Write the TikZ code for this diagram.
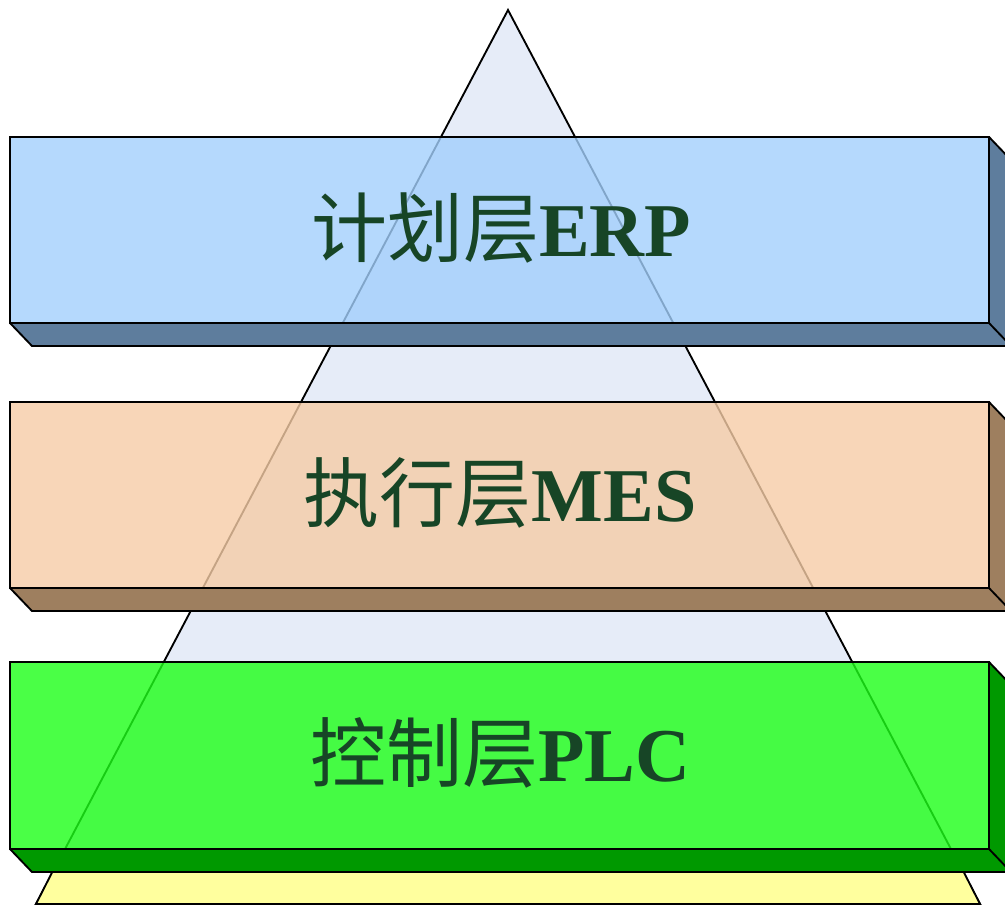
\documentclass[tikz,border=0pt]{standalone}
\usepackage{fontspec}
\setmainfont{Liberation Serif}
\newfontfamily\latbold{Liberation Serif Bold}
\newfontfamily\cjk{Noto Sans CJK SC}
\definecolor{triFill}{RGB}{230,236,248}
\definecolor{baseYellow}{RGB}{255,255,158}
\definecolor{erpFront}{RGB}{162,207,252}
\definecolor{erpSide}{RGB}{94,125,157}
\definecolor{mesFront}{RGB}{246,204,166}
\definecolor{mesSide}{RGB}{158,127,95}
\definecolor{plcFront}{RGB}{29,255,24}
\definecolor{plcSide}{RGB}{0,153,0}
\definecolor{labelGreen}{RGB}{23,69,38}
\tikzset{
  edge/.style={draw=black, line width=1.4pt, line join=miter},
  frontface/.style={edge, fill opacity=0.8},
  label/.style={text=labelGreen, font=\fontsize{57}{62}\selectfont, anchor=base, inner sep=0pt},
}
\newcommand{\layerbar}[4]{% top y, bottom y, front colour, side colour
  \fill[#4] (10,#2) -- (989,#2) -- (1011,#2+23) -- (32,#2+23) -- cycle;
  \fill[#4] (989,#1) -- (1011,#1+23) -- (1011,#2+23) -- (989,#2) -- cycle;
  \draw[edge] (10,#2) -- (32,#2+23) -- (1011,#2+23);
  \draw[edge] (989,#2) -- (1011,#2+23);
  \draw[edge] (989,#1) -- (1011,#1+23);
  \filldraw[frontface, fill=#3] (10,#1) rectangle (989,#2);
}
\begin{document}
\begin{tikzpicture}[x=0.75pt, y=-0.75pt]
\useasboundingbox (0,0) rectangle (1005,906);
\clip (0,0) rectangle (1005,906);
% pyramid
\filldraw[edge, fill=triFill] (508,10) -- (980,904) -- (36,904) -- cycle;
\filldraw[edge, fill=baseYellow] (64,849) -- (952,849) -- (980,904) -- (36,904) -- cycle;
% layers
\layerbar{137}{323}{erpFront}{erpSide}
\layerbar{402}{588}{mesFront}{mesSide}
\layerbar{662}{849}{plcFront}{plcSide}
% labels
\node[label] (erp) at (501,256) {{\cjk 计划层}{\latbold ERP}};
\node[label] (mes) at (500,521) {{\cjk 执行层}{\latbold MES}};
\node[label] (plc) at (500,781) {{\cjk 控制层}{\latbold PLC}};
\end{tikzpicture}
\end{document}
